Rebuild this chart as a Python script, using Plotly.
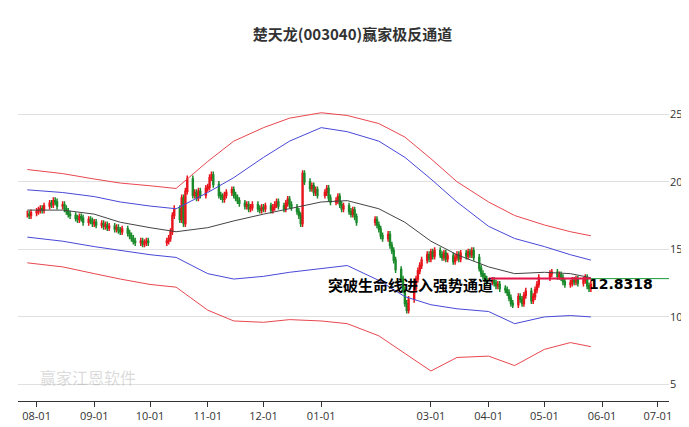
import pandas as pd
import plotly.graph_objects as go

# daily closes per month (trading days)
closes = {
    "2022-07": [17.6, 17.5, 17.7],
    "2022-08": [17.8, 17.9, 18.0, 17.9, 18.2, 18.4, 18.3, 18.6, 18.5, 18.2, 18.3, 18.0, 17.8, 17.6, 17.5, 17.3,
                17.2, 17.4, 17.3, 17.0, 17.2, 17.1, 16.9],
    "2022-09": [17.0, 16.8, 16.9, 16.7, 16.8, 16.6, 16.7, 16.5, 16.6, 16.4, 16.3, 16.5, 16.2, 16.0, 15.8, 15.6,
                15.5, 15.6, 15.4, 15.5, 15.6, 15.5],
    "2022-10": [15.6, 15.8, 16.3, 17.5, 18.0, 17.2, 18.8, 16.9, 19.3, 20.2, 19.0, 19.2, 18.8, 19.3, 19.0, 19.5],
    "2022-11": [19.6, 20.3, 20.5, 19.8, 19.0, 18.9, 18.7, 19.0, 19.2, 19.4, 19.0, 18.8, 18.6, 18.4, 18.2, 18.3,
                18.0, 18.1, 18.3, 18.0, 17.9, 18.1],
    "2022-12": [18.0, 18.2, 17.9, 18.1, 18.3, 18.5, 18.2, 18.0, 18.4, 18.7, 18.3, 18.1, 17.8, 17.5, 16.9, 20.6,
                20.0, 19.5, 19.7, 19.2, 19.4, 19.0],
    "2023-01": [19.2, 19.5, 18.8, 18.5, 18.6, 18.9, 18.3, 18.0, 18.2, 17.8, 17.6, 17.9, 17.4, 17.0, 17.2, 16.8],
    "2023-02": [16.5, 16.0, 15.8, 16.1, 15.3, 14.9, 14.2, 13.5, 12.8, 12.0, 11.0, 10.5, 11.3, 12.1, 12.8, 13.4,
                13.8, 14.2, 14.6, 14.3],
    "2023-03": [14.8, 14.5, 14.9, 14.6, 14.4, 14.7, 14.3, 14.5, 14.1, 14.4, 14.6, 14.3, 14.7, 14.5, 14.8, 14.6,
                14.9, 14.4, 13.6, 13.2, 13.0, 12.8, 12.6],
    "2023-04": [12.7, 12.5, 12.3, 12.4, 12.1, 12.0, 11.8, 11.4, 11.0, 10.9, 11.5, 11.3, 11.0, 11.6, 11.9, 11.2,
                11.5, 12.0, 12.4, 12.9],
    "2023-05": [13.2, 13.3, 13.0, 13.1, 12.9, 12.6, 12.4, 12.5, 12.7, 12.6, 12.8, 12.5, 12.7, 12.9, 12.3, 12.1,
                12.4],
}

band_dates = ["2022-07-27", "2022-08-15", "2022-09-01", "2022-09-15", "2022-10-01", "2022-10-15",
              "2022-11-01", "2022-11-15", "2022-12-01", "2022-12-15", "2023-01-01", "2023-01-15",
              "2023-02-01", "2023-02-15", "2023-03-01", "2023-03-15", "2023-04-01", "2023-04-15",
              "2023-05-01", "2023-05-15", "2023-05-26"]
mid = [17.9, 17.9, 17.6, 17.0, 16.6, 16.3, 16.6, 17.1, 17.6, 18.0, 18.5, 18.6, 18.0, 17.0, 15.6, 14.6,
       13.7, 13.2, 13.3, 13.2, 12.9]
upper_blue = [19.4, 19.2, 18.9, 18.5, 18.2, 18.0, 19.2, 20.3, 21.8, 23.0, 24.0, 23.7, 23.0, 21.8, 20.2,
              18.5, 16.7, 15.8, 15.2, 14.6, 14.2]
upper_red = [20.9, 20.6, 20.2, 19.9, 19.7, 19.5, 21.5, 23.0, 24.0, 24.7, 25.1, 24.9, 24.3, 23.3, 21.7,
             20.0, 18.5, 17.5, 16.8, 16.3, 16.0]
lower_blue = [15.9, 15.6, 15.2, 14.9, 14.6, 14.4, 13.2, 12.8, 13.0, 13.3, 13.6, 13.8, 12.7, 11.5, 10.9,
              10.6, 10.4, 9.5, 10.0, 10.1, 10.0]
lower_red = [14.0, 13.7, 13.2, 12.8, 12.4, 12.2, 10.5, 9.7, 9.6, 9.8, 9.7, 9.5, 8.6, 7.3, 6.0, 7.0,
             7.1, 6.4, 7.6, 8.1, 7.8]

level = 12.8318
tick_vals = ["2022-08-01", "2022-09-01", "2022-10-01", "2022-11-01", "2022-12-01", "2023-01-01",
             "2023-03-01", "2023-04-01", "2023-05-01", "2023-06-01", "2023-07-01"]
tick_text = ["08-01", "09-01", "10-01", "11-01", "12-01", "01-01", "03-01", "04-01", "05-01", "06-01", "07-01"]

holidays = pd.to_datetime(["2022-10-03", "2022-10-04", "2022-10-05", "2022-10-06", "2022-10-07",
                           "2023-01-02", "2023-01-23", "2023-01-24", "2023-01-25", "2023-01-26",
                           "2023-01-27", "2023-05-01", "2023-05-02", "2023-05-03"])
dates, c = [], []
for month, vals in closes.items():
    start = pd.Timestamp(month + "-01")
    if month == "2022-07":
        start = pd.Timestamp("2022-07-27")
    days = pd.bdate_range(start, start + pd.offsets.MonthEnd(0))
    days = [d for d in days if d not in holidays]
    for d, v in zip(days, vals):
        dates.append(d)
        c.append(v)
o = [c[0]] + c[:-1]
h = [max(a, b) + 0.25 for a, b in zip(o, c)]
l = [min(a, b) - 0.25 for a, b in zip(o, c)]

fig = go.Figure()
for ys, col in [(upper_red, "#e8474f"), (lower_red, "#e8474f"),
                (upper_blue, "#4848d8"), (lower_blue, "#4848d8"), (mid, "#444444")]:
    fig.add_trace(go.Scatter(x=band_dates, y=ys, mode="lines", line=dict(color=col, width=1),
                             showlegend=False, hoverinfo="skip"))
fig.add_trace(go.Candlestick(x=dates, open=o, high=h, low=l, close=c, whiskerwidth=0,
                             increasing=dict(line=dict(color="#e8141c", width=1.5), fillcolor="#e8141c"),
                             decreasing=dict(line=dict(color="#1a8a2a", width=1.5), fillcolor="#1a8a2a"),
                             showlegend=False))
fig.add_trace(go.Scatter(x=["2023-04-01", "2023-07-20"], y=[level, level], mode="lines",
                         line=dict(color="#1a9a3a", width=1), showlegend=False))
fig.add_trace(go.Scatter(x=["2023-04-01", "2023-05-26"], y=[level, level], mode="lines",
                         line=dict(color="#e8144c", width=2), showlegend=False))

fig.add_annotation(x="2023-02-18", y=12.4, text="<b>突破生命线进入强势通道</b>", showarrow=False,
                   font=dict(size=15, color="black", family="Noto Sans CJK SC"))
fig.add_annotation(x="2023-05-24", y=12.4, text="<b>12.8318</b>", showarrow=False, xanchor="left",
                   font=dict(size=14, color="black", family="DejaVu Sans"))
fig.add_annotation(x=0.03, y=0.03, xref="paper", yref="paper", text="赢家江恩软件", showarrow=False,
                   xanchor="left", font=dict(size=16, color="rgba(150,150,150,0.35)", family="Noto Sans CJK SC"))

fig.update_layout(
    width=689, height=427,
    title=dict(text="<b>楚天龙(003040)赢家极反通道</b>", x=0.5, y=0.95,
               font=dict(size=15, color="#333", family="Noto Sans CJK SC")),
    paper_bgcolor="white", plot_bgcolor="white",
    margin=dict(l=10, r=28, t=50, b=34),
    xaxis=dict(range=["2022-07-22", "2023-07-07"], tickvals=tick_vals, ticktext=tick_text,
               rangeslider=dict(visible=False), showgrid=False, showline=True, linecolor="#333",
               ticks="outside", ticklen=5, tickcolor="#333", tickfont=dict(size=11, color="#333")),
    yaxis=dict(side="right", range=[3.78, 29.15], tickvals=[5, 10, 15, 20, 25], showgrid=True,
               gridcolor="#e0e0e0", zeroline=False, tickfont=dict(size=11, color="#333")),
)
fig.write_html("out.html")
